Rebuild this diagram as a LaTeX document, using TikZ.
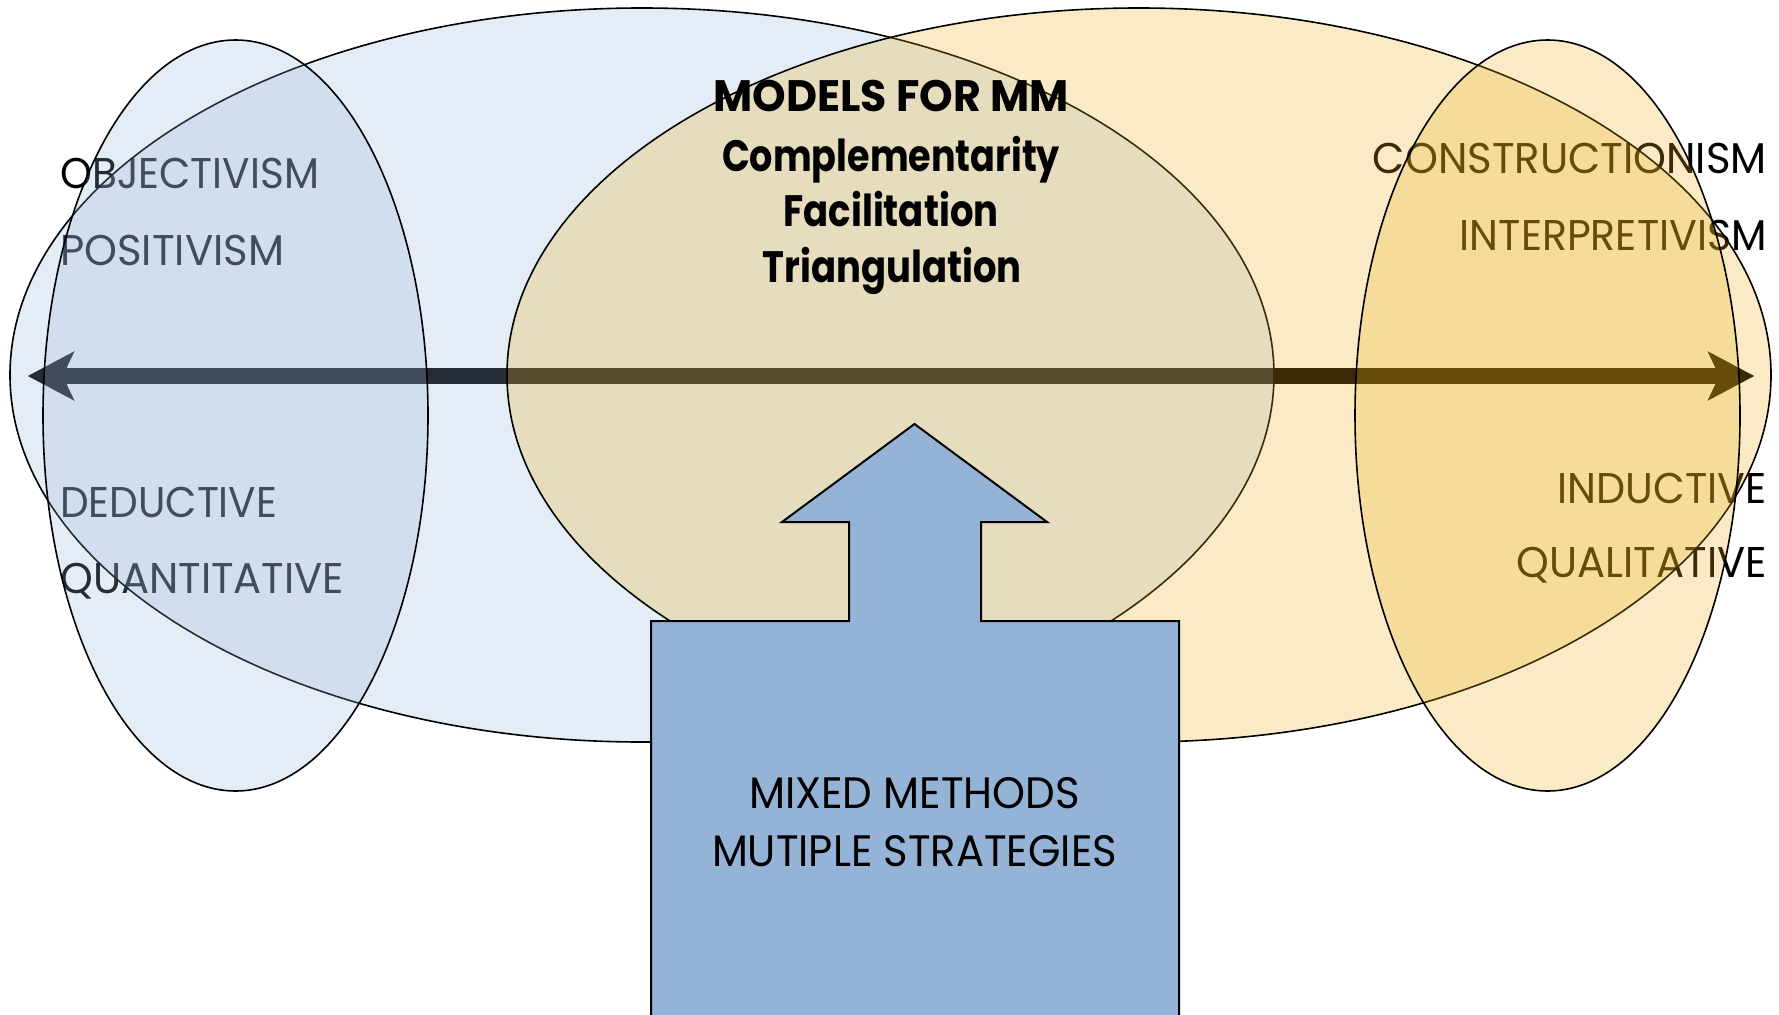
\documentclass[tikz,border=0pt]{standalone}
\usepackage{fontspec}
\usepackage{graphicx}
\setmainfont{Poppins}
\usetikzlibrary{arrows.meta}

\definecolor{blueveil}{RGB}{149,179,215}
\definecolor{goldveil}{RGB}{235,175,27}
\definecolor{blockblue}{RGB}{149,179,215}

% set a line of text to an exact width, keeping its height
\newcommand{\fitto}[2]{\resizebox{#1}{\height}{#2}}

\begin{document}
\begin{tikzpicture}[x=1pt,y=-1pt,
  sidetext/.style={inner sep=0pt, font=\fontsize{43}{43}\selectfont, text=black},
  lefttext/.style={sidetext, anchor=base west},
  righttext/.style={sidetext, anchor=base east},
  modeltext/.style={inner sep=0pt, anchor=base, font=\fontsize{44}{44}\selectfont\bfseries},
  blocktext/.style={inner sep=0pt, anchor=base, font=\fontsize{44}{44}\selectfont},
  veil/.style={draw=black, line width=1.6pt, fill opacity=0.25},
  spine/.style={line width=15.7pt, draw=black,
    arrows={Stealth[length=46pt, width=48pt, inset=11pt]-Stealth[length=46pt, width=48pt, inset=11pt]}},
]
\useasboundingbox (0,0) rectangle (1779,1014);

% the axis running between the two poles
\coordinate (poleW) at (27.7,376);
\coordinate (poleE) at (1754.3,376);
\draw[spine] (poleW) -- (poleE);

% labels of the two paradigms (seen through the veils)
\node[lefttext] (objectivism) at (60,188) {\fitto{259pt}{OBJECTIVISM}};
\node[lefttext] (positivism)  at (60,265) {\fitto{224pt}{POSITIVISM}};
\node[lefttext] (deductive)   at (60,517) {\fitto{217pt}{DEDUCTIVE}};
\node[lefttext] (quantitative) at (60,593) {\fitto{284pt}{QUANTITATIVE}};

\node[righttext] (constructionism) at (1767,173) {\fitto{394pt}{CONSTRUCTIONISM}};
\node[righttext] (interpretivism)  at (1767,250) {\fitto{307pt}{INTERPRETIVISM}};
\node[righttext] (inductive)       at (1767,503) {\fitto{209pt}{INDUCTIVE}};
\node[righttext] (qualitative)     at (1767,577) {\fitto{250pt}{QUALITATIVE}};

% translucent veils: quantitative side, then qualitative side
\path[veil, fill=blueveil] (642,375) ellipse [x radius=632pt, y radius=367pt];
\path[veil, fill=blueveil] (235.5,415.5) ellipse [x radius=192.5pt, y radius=375.5pt];
\path[veil, fill=goldveil] (1139,375) ellipse [x radius=632pt, y radius=367pt];
\path[veil, fill=goldveil] (1547.5,415.5) ellipse [x radius=192.5pt, y radius=375.5pt];

% models in the overlap
\node[modeltext] (models) at (891,111.7) {\fitto{355pt}{MODELS FOR MM}};
\node[modeltext] (compl)  at (891,171.7) {\fitto{338pt}{Complementarity}};
\node[modeltext] (facil)  at (891,226.7) {\fitto{215pt}{Facilitation}};
\node[modeltext] (triang) at (892,282.7) {\fitto{259pt}{Triangulation}};

% block arrow pushing up into the overlap
\draw[fill=blockblue, draw=black, line width=2pt]
  (651,1030) -- (651,621) -- (849,621) -- (849,522) -- (782,522)
  -- (914.5,424) -- (1047,522) -- (981,522) -- (981,621)
  -- (1179,621) -- (1179,1030) -- cycle;
\node[blocktext] (mixed)    at (914.5,808) {\fitto{331pt}{MIXED METHODS}};
\node[blocktext] (multiple) at (914.5,866) {\fitto{405pt}{MUTIPLE STRATEGIES}};
\end{tikzpicture}
\end{document}
